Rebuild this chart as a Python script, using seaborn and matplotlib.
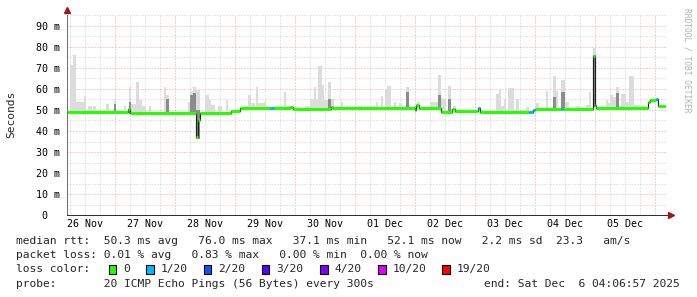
import numpy as np
import pandas as pd
import matplotlib
matplotlib.use("Agg")
import matplotlib.pyplot as plt
import seaborn as sns
from matplotlib.patches import Rectangle

# ---------------- data (hours since 26 Nov 00:00, values in ms) ----------------
med_start_h = [4.8, 29.2, 30.0, 56.4, 57.2, 58.0, 70.4, 74.0, 86.0, 87.6, 94.0, 95.2,
               110.4, 111.2, 144.0, 144.4, 145.6, 154.4, 158.8, 160.0, 169.2, 170.0,
               189.6, 191.2, 192.0, 202.4, 203.2, 215.2, 216.0, 216.4, 237.2, 238.0,
               240.4, 241.2, 242.8]
med_ms = [49.0, 50.3, 48.8, 37.0, 45.0, 48.8, 49.4, 50.8, 50.8, 50.8, 51.3, 50.7,
          51.5, 50.8, 50.0, 52.3, 50.8, 49.2, 50.3, 49.4, 50.8, 49.0,
          49.0, 50.0, 50.6, 50.6, 50.6, 75.8, 52.2, 50.8, 54.0, 54.7,
          55.3, 51.7, 52.1]
med_loss = [0, 0, 0, 0, 0, 0, 0, 0, 1, 0, 0, 0,
            0, 0, 0, 0, 0, 0, 0, 0, 1, 0,
            1, 1, 0, 1, 0, 0, 0, 0, 0, 0,
            1, 0, 0]
med_end_h = 244.0

smoke_start = [6.0, 7.2, 8.4, 11.6, 13.2, 15.2, 20.4, 23.6, 27.6, 29.6, 30.4, 32.4, 33.6, 34.8,
               37.6, 43.6, 44.4, 53.2, 54.0, 55.2, 56.4, 60.0, 61.6, 62.4, 65.2, 68.4, 77.2,
               78.4, 80.4, 81.2, 83.6, 87.2, 91.6, 92.4, 100.0, 102.0, 103.6, 104.4, 105.2,
               106.8, 107.6, 109.2, 110.4, 114.4, 116.4, 121.2, 128.4, 130.4, 132.0, 132.8,
               135.6, 137.6, 140.4, 144.8, 150.0, 153.2, 154.4, 155.2, 157.2, 159.2, 176.4,
               177.6, 178.4, 179.6, 181.2, 184.4, 188.4, 192.4, 196.4, 199.2, 200.4, 202.4,
               204.0, 208.4, 212.4, 213.6, 215.2, 220.4, 221.2, 222.0, 223.2, 224.4, 226.4,
               228.4, 229.6, 231.6, 234.0]
smoke_end = [7.2, 8.4, 11.6, 12.4, 14.8, 16.4, 21.6, 24.4, 28.4, 30.4, 32.4, 33.6, 34.8, 36.4,
             38.4, 44.4, 45.6, 54.0, 55.2, 56.4, 58.0, 61.6, 62.4, 64.0, 66.8, 69.2, 78.4,
             80.0, 81.2, 83.6, 84.4, 91.6, 92.4, 96.0, 102.0, 103.6, 104.4, 105.2, 106.8,
             107.6, 109.2, 110.4, 111.6, 115.2, 117.6, 122.4, 129.2, 131.2, 132.8, 134.4,
             136.4, 138.8, 141.6, 146.0, 153.2, 154.4, 155.2, 156.4, 158.4, 160.4, 177.6,
             178.4, 179.6, 180.4, 183.6, 185.6, 189.6, 193.6, 197.2, 200.4, 201.2, 204.0,
             205.6, 210.0, 213.6, 214.4, 216.4, 221.2, 222.0, 223.2, 224.4, 225.6, 228.4,
             229.6, 231.6, 234.0, 236.8]
smoke_top = [71.4, 76.2, 54.0, 56.7, 52.0, 52.0, 52.9, 54.8, 52.0, 61.1, 53.0, 63.3, 54.8, 52.0,
             52.0, 60.8, 57.0, 54.0, 59.2, 61.1, 59.5, 57.1, 54.8, 52.4, 52.0, 54.8, 57.0,
             53.5, 61.1, 53.5, 54.0, 52.0, 58.7, 52.0, 52.0, 55.2, 61.1, 55.0, 71.1,
             61.9, 54.8, 63.3, 55.0, 54.0, 52.0, 52.0, 53.7, 56.7, 59.8, 61.6,
             54.0, 53.5, 61.1, 54.0, 54.0, 66.7, 55.5, 55.3, 61.4, 52.0, 57.6,
             59.5, 52.0, 55.0, 60.3, 55.3, 51.5, 53.5, 59.2, 66.2, 59.2, 64.3,
             53.8, 52.0, 52.3, 58.7, 79.4, 54.8, 53.5, 57.1, 56.4, 61.1, 57.6,
             54.0, 66.2, 52.4, 52.0]
smoke_mid = [0, 0, 0, 0, 0, 0, 0, 53.0, 0, 54.0, 0, 0, 0, 0,
             0, 0, 55.0, 0, 57.0, 58.0, 50.0, 0, 0, 0, 0, 0, 0,
             0, 0, 0, 0, 0, 0, 0, 0, 0, 0, 0, 0,
             0, 0, 55.0, 0, 0, 0, 0, 0, 0, 0, 0,
             0, 0, 58.7, 0, 0, 57.0, 0, 0, 55.0, 0, 0,
             0, 0, 0, 0, 0, 0, 0, 0, 56.0, 0, 58.7,
             0, 0, 0, 0, 76.0, 0, 0, 0, 0, 58.0, 0,
             0, 0, 0, 0]

day_labels = ["26 Nov", "27 Nov", "28 Nov", "29 Nov", "30 Nov",
              "01 Dec", "02 Dec", "03 Dec", "04 Dec", "05 Dec"]
ytick_vals = [0, 10, 20, 30, 40, 50, 60, 70, 80, 90]
ytick_labels = ["0\u00a0\u00a0"] + [f"{v} m" for v in ytick_vals[1:]]

loss_levels = ["0", "1/20", "2/20", "3/20", "4/20", "10/20", "19/20"]
loss_colors = ["#26ff00", "#00b8ff", "#0059ff", "#5e00ff", "#7e00ff", "#dd00ff", "#ff0000"]

line_rtt = "median rtt:  50.3 ms avg   76.0 ms max   37.1 ms min   52.1 ms now   2.2 ms sd  23.3   am/s"
line_loss = "packet loss: 0.01 % avg   0.83 % max   0.00 % min  0.00 % now"
line_probe = "probe:       20 ICMP Echo Pings (56 Bytes) every 300s"
line_end = "end: Sat Dec  6 04:06:57 2025"

# ---------------- figure ----------------
sns.set_style("white")
plt.rcParams["font.family"] = ["DejaVu Sans Mono", "DejaVu Sans"]

W, H = 697, 297
fig = plt.figure(figsize=(W / 100, H / 100), dpi=100, facecolor="white")
ax = fig.add_axes([67 / W, 82 / H, 600 / W, 200 / H])
ax.set_facecolor("white")

x0, x1 = 4.8, 244.8
ax.set_xlim(x0, x1)
ax.set_ylim(0, 200 / 2.1)

midnights = np.arange(24, x1, 24)
six_h = np.arange(6, x1, 6)
noons = np.arange(12, 12 + 24 * len(day_labels), 24)

ax.set_xticks(midnights)
ax.set_xticks(six_h, minor=True)
ax.set_xticklabels([])
ax.set_yticks(ytick_vals)
ax.set_yticklabels(ytick_labels)
ax.set_yticks(np.arange(5, 100, 10), minor=True)

px = 0.72
ax.grid(which="major", color="#eba5a5", lw=px, ls=(0, (1, 2)))
ax.grid(which="minor", color="#cfcfcf", lw=px, ls=(0, (1, 2)))
ax.set_axisbelow(True)

ax.tick_params(axis="y", which="major", direction="inout", length=3, width=px,
               color="#d08080", labelsize=7.2, pad=3.6, labelcolor="#000000")
ax.tick_params(axis="y", which="minor", direction="inout", length=3, width=px, color="#b0b0b0")
ax.tick_params(axis="x", which="major", direction="inout", length=3, width=px, color="#d08080")
ax.tick_params(axis="x", which="minor", direction="inout", length=3, width=px, color="#b0b0b0")

sec = ax.secondary_xaxis("bottom")
sec.set_xticks(noons, labels=day_labels)
sec.tick_params(length=0, pad=3.2, labelsize=7.2, labelcolor="#000000")
sec.spines["bottom"].set_visible(False)

for s in ["top", "right"]:
    ax.spines[s].set_visible(False)
ax.spines["left"].set_color("#707070")
ax.spines["bottom"].set_color("#303030")
ax.spines["left"].set_linewidth(px)
ax.spines["bottom"].set_linewidth(px)

# arrows at the axis ends
ax.plot([1.006], [0], marker=">", ms=4.2, color="#a01818", mec="#a01818",
        transform=ax.transAxes, clip_on=False, zorder=6)
ax.plot([0], [1.0225], marker="^", ms=4.2, color="#a01818", mec="#a01818",
        transform=ax.transAxes, clip_on=False, zorder=6)

# ---------------- smoke ----------------
ms_arr = np.array(med_ms)
st_arr = np.array(med_start_h)


def med_at(t):
    i = np.searchsorted(st_arr, t, side="right") - 1
    return ms_arr[max(i, 0)]


smoke = pd.DataFrame({"start": smoke_start, "end": smoke_end,
                      "top": smoke_top, "mid": smoke_mid})
smoke["low"] = [min(med_at(s), med_at(e - 0.01)) - 0.8 for s, e in zip(smoke.start, smoke.end)]
ax.bar(smoke.start, smoke.top - smoke.low, bottom=smoke.low, width=smoke.end - smoke.start,
       align="edge", color="#dcdcdc", lw=0, zorder=2)
dark = smoke[smoke.mid > 0]
ax.bar(dark.start, dark.mid - dark.low, bottom=dark.low, width=dark.end - dark.start,
       align="edge", color="#8c8c8c", lw=0, zorder=2.5)

# ---------------- median line ----------------
med_df = pd.DataFrame({"h": med_start_h + [med_end_h], "ms": med_ms + [med_ms[-1]]})
sns.lineplot(data=med_df, x="h", y="ms", drawstyle="steps-post", color="#202020",
             lw=px * 1.2, estimator=None, sort=False, ax=ax, zorder=3)
ends = med_start_h[1:] + [med_end_h]
for s, e, v, l in zip(med_start_h, ends, med_ms, med_loss):
    ax.hlines(v, s, e, colors=loss_colors[l], lw=2.2, capstyle="butt", zorder=4)

ax.set_xlabel("")
ax.set_ylabel("")

# ---------------- texts ----------------
fs = 8.1
fig.text(11 / W, 1 - 114 / H, "Seconds", rotation=90, va="center", ha="center", fontsize=fs)
fig.text(687.5 / W, 1 - 60 / H, "RRDTOOL / TOBI OETIKER", rotation=270, va="center",
         ha="center", fontsize=5.7, color="#b0b0b0")

fig.text(16 / W, 1 - 241.3 / H, line_rtt, fontsize=fs, va="center", ha="left")
fig.text(16 / W, 1 - 255.3 / H, line_loss, fontsize=fs, va="center", ha="left")
fig.text(16 / W, 1 - 269.3 / H, "loss color:", fontsize=fs, va="center", ha="left")
sq_x = [108.5, 146.0, 203.5, 261.5, 320.0, 378.0, 442.0]
for xs, lab, col in zip(sq_x, loss_levels, loss_colors):
    fig.add_artist(Rectangle((xs / W, 1 - 273.5 / H), 7.5 / W, 8.5 / H, transform=fig.transFigure,
                             facecolor=col, edgecolor="#000000", lw=0.8))
    fig.text((xs + 14.7) / W, 1 - 269.3 / H, lab, fontsize=fs, va="center", ha="left")
fig.text(16 / W, 1 - 283.7 / H, line_probe, fontsize=fs, va="center", ha="left")
fig.text(680 / W, 1 - 283.7 / H, line_end, fontsize=fs, va="center", ha="right")

fig.savefig("out.png", dpi=100, facecolor="white")
